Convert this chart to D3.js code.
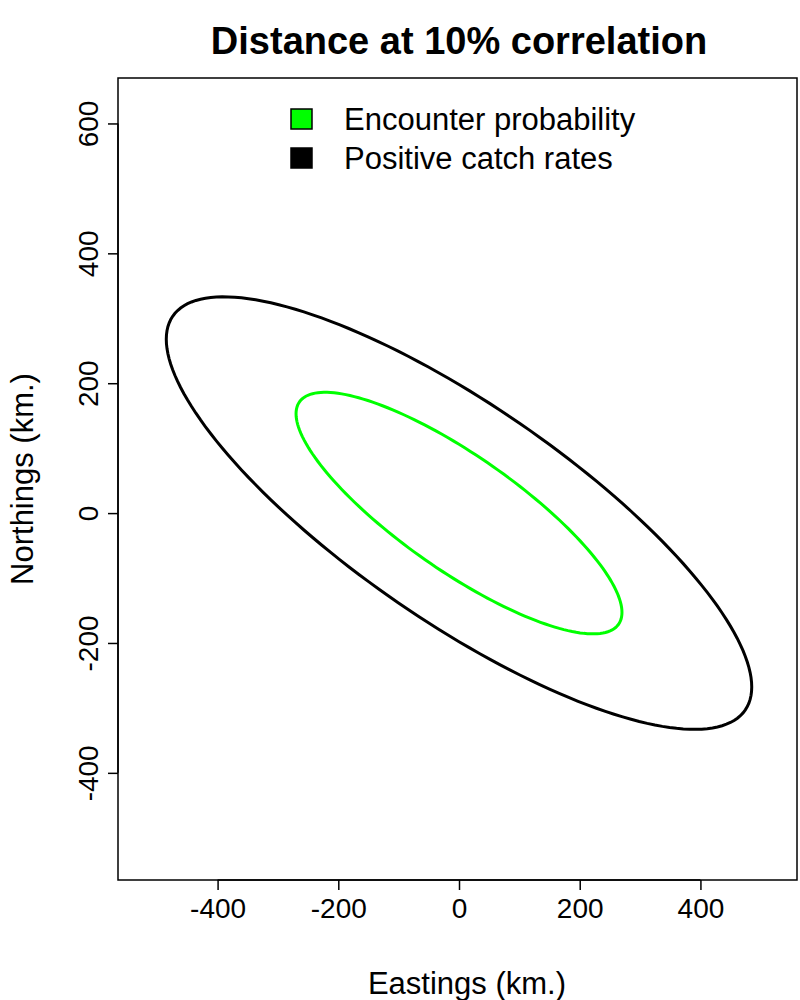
<!DOCTYPE html>
<html><head><meta charset="utf-8">
<script src="https://cdn.jsdelivr.net/npm/d3@7"></script>
<style>body{margin:0;background:#fff}svg{font-family:"Liberation Sans",Arial,sans-serif}</style>
</head><body><svg id="c" width="800" height="1000"></svg>
<script>
const xTicks=[-400,-200,0,200,400];
const yTicks=[-400,-200,0,200,400,600];
// ellipse parameters: x = xMax*cos t, y = yMax*cos(t+phi), cos(phi) given
const seriesNames=["Encounter probability","Positive catch rates"];
const seriesColors=["#00ff00","#000000"];
const xMax=[270,485];
const yMax=[186,333];
const cosPhi=[-0.822,-0.804];

const svg=d3.select("#c");
const L=118,R=797,T=78,B=880;
const x=d3.scaleLinear().domain([-565,560]).range([L,R]);
const y=d3.scaleLinear().domain([-565,670]).range([B,T]);

svg.append("rect").attr("x",L).attr("y",T).attr("width",R-L).attr("height",B-T)
 .attr("fill","none").attr("stroke","#000").attr("stroke-width",1.5);

const line=d3.line().x(d=>x(d[0])).y(d=>y(d[1])).curve(d3.curveLinearClosed);
seriesNames.forEach((n,i)=>{
  const phi=Math.acos(cosPhi[i]);
  const pts=d3.range(0,360,2).map(a=>{const t=a*Math.PI/180;return [xMax[i]*Math.cos(t),yMax[i]*Math.cos(t+phi)];});
  svg.append("path").attr("d",line(pts)).attr("fill","none").attr("stroke",seriesColors[i]).attr("stroke-width",3);
});

const fmt=d=>String(d);
const xa=svg.append("g").attr("transform",`translate(0,${B})`)
 .call(d3.axisBottom(x).tickValues(xTicks).tickFormat(fmt).tickSize(10).tickPadding(8));
xa.select(".domain").attr("d",`M${x(-400)},0H${x(400)}`).attr("stroke-width",1.5);
xa.selectAll("line").attr("stroke-width",1.5);
xa.selectAll("text").attr("font-size",28).attr("font-family","Liberation Sans, Arial").attr("fill","#000");

const ya=svg.append("g").attr("transform",`translate(${L},0)`)
 .call(d3.axisLeft(y).tickValues(yTicks).tickFormat(fmt).tickSize(10).tickPadding(6));
ya.select(".domain").attr("d",`M0,${y(-400)}V${y(600)}`).attr("stroke-width",1.5);
ya.selectAll("line").attr("stroke-width",1.5);
ya.selectAll("text").attr("font-size",28).attr("font-family","Liberation Sans, Arial").attr("fill","#000")
 .attr("text-anchor","middle").attr("x",0).attr("dy",0)
 .attr("transform","translate(-20,0) rotate(-90)");

svg.append("text").attr("x",459).attr("y",54).attr("text-anchor","middle")
 .attr("font-size",38).attr("font-weight","bold").text("Distance at 10% correlation");
svg.append("text").attr("x",467).attr("y",994).attr("text-anchor","middle")
 .attr("font-size",31).text("Eastings (km.)");
svg.append("text").attr("transform","translate(33,479) rotate(-90)").attr("text-anchor","middle")
 .attr("font-size",31).text("Northings (km.)");

seriesNames.forEach((n,i)=>{
  const cy=119+i*39;
  svg.append("rect").attr("x",291).attr("y",cy-10).attr("width",21).attr("height",20)
   .attr("fill",seriesColors[i]).attr("stroke","#000").attr("stroke-width",1.5);
  svg.append("text").attr("x",344).attr("y",cy+11).attr("font-size",31).text(n);
});
</script></body></html>
